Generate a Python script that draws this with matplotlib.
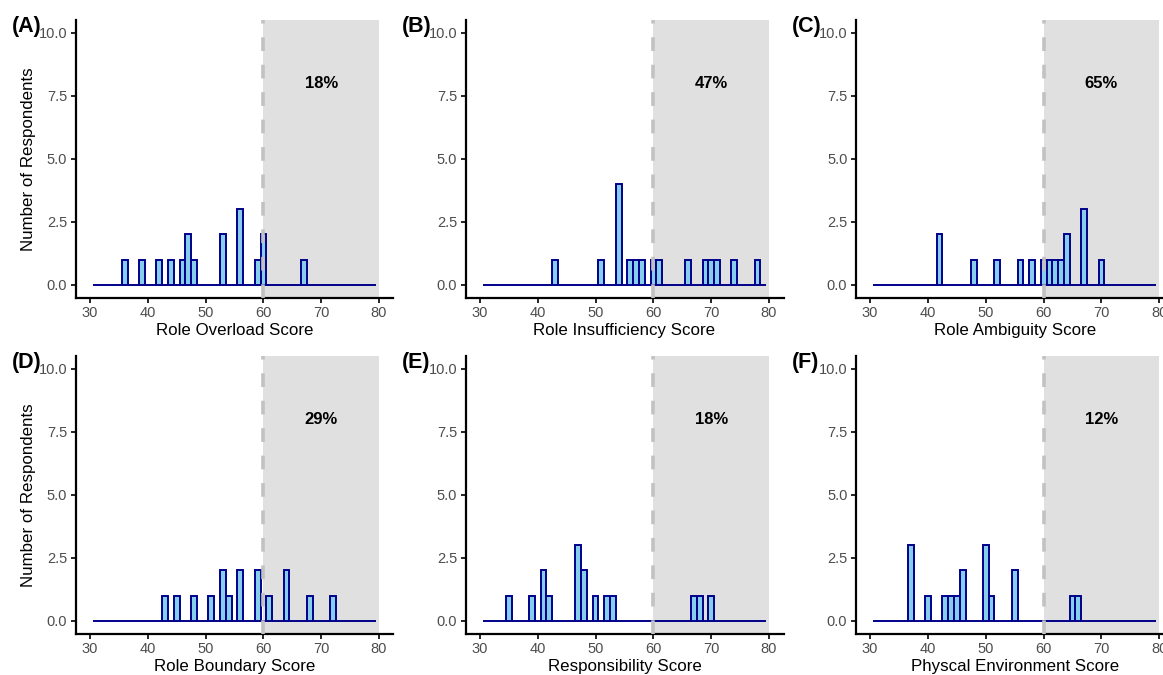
import numpy as np
import matplotlib
matplotlib.use("Agg")
import matplotlib.pyplot as plt

plt.rcParams['font.family'] = ['Liberation Sans', 'DejaVu Sans']

# ---- data (individual scores) ----
role_overload = [36, 39, 42, 44, 46, 47, 47, 48, 53, 53, 56, 56, 56, 59, 60, 60, 67]
role_insufficiency = [43, 51, 54, 54, 54, 54, 56, 57, 58, 60, 61, 66, 69, 70, 71, 74, 78]
role_ambiguity = [42, 42, 48, 52, 56, 58, 60, 61, 62, 63, 64, 64, 67, 67, 67, 70]
role_boundary = [43, 45, 48, 51, 53, 53, 54, 56, 56, 59, 59, 61, 64, 64, 68, 72]
responsibility = [35, 39, 41, 41, 42, 47, 47, 47, 48, 48, 50, 52, 53, 67, 68, 70]
physical_env = [37, 37, 37, 40, 43, 44, 45, 46, 46, 50, 50, 50, 51, 55, 55, 65, 66]

panel_letters = ["(A)", "(B)", "(C)", "(D)", "(E)", "(F)"]
x_titles = ["Role Overload Score", "Role Insufficiency Score", "Role Ambiguity Score",
            "Role Boundary Score", "Responsibility Score", "Physcal Environment Score"]
pct_labels = ["18%", "47%", "65%", "29%", "18%", "12%"]
all_scores = [role_overload, role_insufficiency, role_ambiguity,
              role_boundary, responsibility, physical_env]

cutoff = 60
x_ticks = [30, 40, 50, 60, 70, 80]
y_ticks = [0.0, 2.5, 5.0, 7.5, 10.0]

W, H = 1163, 675
fig = plt.figure(figsize=(W / 100, H / 100), dpi=100)

col_left = [75.5, 465.5, 855.7]
row_top = [20, 356]
ax_w, ax_h = 318, 277.5

for i, scores in enumerate(all_scores):
    r, c = divmod(i, 3)
    left = col_left[c]
    top = row_top[r]
    ax = fig.add_axes([left / W, 1 - (top + ax_h) / H, ax_w / W, ax_h / H])
    ax.set_xlim(27.5, 82.5)
    ax.set_ylim(-0.5, 10.5)
    ax.axvspan(cutoff, 80, color="#e0e0e0", zorder=0, lw=0)
    bins = np.arange(30.5, 80.5, 1)
    ax.hist(scores, bins=bins, facecolor="#87CEEB", edgecolor="#00008B",
            linewidth=1.4, zorder=2)
    ax.axvline(cutoff, color="#c2c2c2", lw=2.6, linestyle=(0, (3.8, 3.8)), zorder=3)
    ax.text(70, 8, pct_labels[i], ha="center", va="center", fontsize=12,
            fontweight="bold", color="black", zorder=4)
    for s in ["top", "right"]:
        ax.spines[s].set_visible(False)
    for s in ["left", "bottom"]:
        ax.spines[s].set_linewidth(1.6)
        ax.spines[s].set_color("black")
    ax.set_xticks(x_ticks)
    ax.set_yticks(y_ticks)
    ax.set_yticklabels([f"{v:.1f}" for v in y_ticks])
    ax.tick_params(axis="both", direction="out", length=3.5, width=1.2,
                   color="black", labelcolor="#4d4d4d", labelsize=10.5, pad=2.5)
    ax.set_xlabel(x_titles[i], fontsize=12.2, color="black", labelpad=2)
    if c == 0:
        ax.set_ylabel("Number of Respondents", fontsize=12.2, color="black", labelpad=1.5)
    fig.text((left - 64) / W, 1 - (top + 6.5) / H, panel_letters[i], fontsize=15.5,
             fontweight="bold", ha="left", va="center")

fig.savefig("out.png", dpi=100)
